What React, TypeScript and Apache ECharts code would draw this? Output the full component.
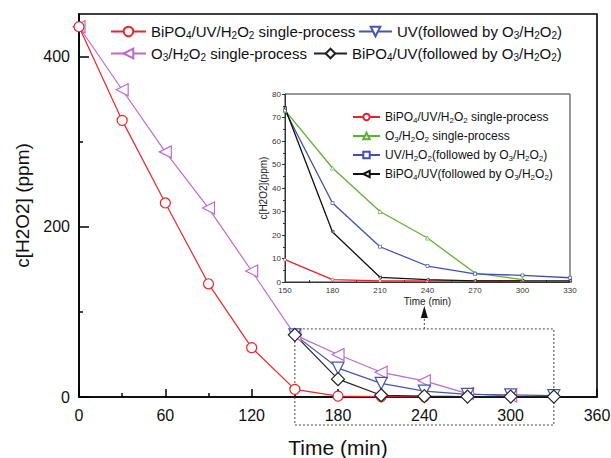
import React, { useEffect, useRef } from "react";
import * as echarts from "echarts";

// ---------- data ----------
const timeMain = [0, 30, 60, 90, 120, 150, 180, 210, 240, 270, 300, 330];
const bipoSingle = [435, 325, 228, 133, 58, 9, 1, 0.5, 0.5, null, null, null];
const o3Single = [435, 361, 288, 222, 148, 73, 50, 29, 19, 4, 1, null];
const uvFollowed = [null, null, null, null, null, 73, 34, 16, 7, 3, 2.5, 1.5];
const bipoUvFollowed = [null, null, null, null, null, 73, 21, 2, 1, 0.5, 0.5, 0.5];

const timeInset = [150, 180, 210, 240, 270, 300, 330];
const insetBipoSingle = [9.5, 1, 0.5, 0.5, 0.5, 0.5, null];
const insetO3Single = [73, 48.5, 30, 18.7, 3.8, 1, null];
const insetUvH2o2 = [73, 33.6, 15, 6.8, 3.5, 2.8, 1.8];
const insetBipoUv = [74, 21.3, 2, 1, 0.5, 0.5, 0.5];

const xMajorTicks = [0, 60, 120, 180, 240, 300, 360];
const xMinorTicks = [30, 90, 150, 210, 270, 330];
const yMajorTicks = [0, 200, 400];
const yMinorTicks = [100, 300];

const legendText: Record<string, string> = {
  m1: "BiPO_4/UV/H_2O_2 single-process",
  m2: "UV(followed by O_3/H_2O_2)",
  m3: "O_3/H_2O_2 single-process",
  m4: "BiPO_4/UV(followed by O_3/H_2O_2)",
  i1: "BiPO_4/UV/H_2O_2 single-process",
  i2: "O_3/H_2O_2 single-process",
  i3: "UV/H_2O_2(followed by O_3/H_2O_2)",
  i4: "BiPO_4/UV(followed by O_3/H_2O_2)",
};

function toRich(s: string): string {
  let out = "";
  let buf = "";
  for (let i = 0; i < s.length; i++) {
    if (s[i] === "_" && i + 1 < s.length) {
      if (buf) out += `{n|${buf}}`;
      buf = "";
      out += `{s|${s[i + 1]}}`;
      i++;
    } else buf += s[i];
  }
  if (buf) out += `{n|${buf}}`;
  return out;
}

const pairs = (xs: number[], ys: (number | null)[]) =>
  xs.map((x, i) => [x, ys[i]]).filter((p) => p[1] !== null);

const FONT = "'Liberation Sans', Arial, sans-serif";

const RED = "#e8262b";
const MAG = "#bd6bca";
const BLUE = "#4656ad";
const BLACK = "#222222";

export default function App() {
  const ref = useRef<HTMLDivElement>(null);
  useEffect(() => {
    if (!ref.current) return;
    const chart = echarts.init(ref.current, null, { renderer: "svg" });

    const mainRich = {
      n: { fontSize: 15, fontFamily: FONT, color: "#111" },
      s: { fontSize: 10, fontFamily: FONT, color: "#111", padding: [7, 0, 0, 0] },
    };
    const insetRich = {
      n: { fontSize: 12, fontFamily: FONT, color: "#111" },
      s: { fontSize: 8, fontFamily: FONT, color: "#111", padding: [6, 0, 0, 0] },
    };
    const mkMainLegend = (name: string, left: number, top: number, w: number) => ({
      data: [name],
      left,
      top,
      padding: 0,
      itemWidth: w,
      itemHeight: 12,
      itemGap: 0,
      selectedMode: false,
      formatter: (n: string) => toRich(legendText[n]),
      textStyle: { rich: mainRich },
    });

    const lineSeries = (
      name: string,
      data: any[],
      color: string,
      symbol: string,
      size: number,
      rotate: number,
      xi: number,
      yi: number,
      lw: number,
      bw: number
    ) => ({
      type: "line",
      name,
      data,
      xAxisIndex: xi,
      yAxisIndex: yi,
      symbol,
      symbolSize: size,
      symbolRotate: rotate,
      lineStyle: { color, width: lw },
      itemStyle: { color: "#ffffff", borderColor: color, borderWidth: bw, opacity: 1 },
      clip: false,
    });

    chart.setOption({
      animation: false,
      backgroundColor: "#fff",
      grid: [
        {
          left: 79,
          top: 14,
          right: 14,
          bottom: 61,
          show: true,
          borderColor: "#000",
          borderWidth: 1.6,
          backgroundColor: "transparent",
          outerBoundsMode: "none",
          containLabel: false,
        },
        {
          left: 285,
          top: 94,
          width: 285,
          height: 188,
          show: true,
          borderColor: "#333",
          borderWidth: 1,
          backgroundColor: "#fff",
          outerBoundsMode: "none",
          containLabel: false,
          z: 3,
        },
      ],
      legend: [
        mkMainLegend("m1", 110, 24, 35),
        mkMainLegend("m2", 358, 24, 33),
        mkMainLegend("m3", 110, 46, 35),
        mkMainLegend("m4", 313, 46, 33),
        {
          data: ["i1", "i2", "i3", "i4"],
          left: 352,
          top: 111,
          padding: 0,
          orient: "vertical",
          itemWidth: 27,
          itemHeight: 8,
          itemGap: 6,
          selectedMode: false,
          formatter: (n: string) => toRich(legendText[n]),
          textStyle: { rich: insetRich },
          z: 10,
        },
      ],
      xAxis: [
        {
          type: "value",
          gridIndex: 0,
          min: 0,
          max: 360,
          name: "Time (min)",
          nameLocation: "middle",
          nameGap: 40,
          nameTextStyle: { fontSize: 21, fontFamily: FONT, color: "#111" },
          axisLine: { show: true, lineStyle: { color: "#000", width: 1.6 } },
          axisTick: { show: true, inside: true, length: 8, customValues: xMajorTicks, lineStyle: { color: "#000", width: 1.5 } },
          axisLabel: { customValues: xMajorTicks, fontSize: 16, fontFamily: FONT, color: "#111", margin: 10 },
          splitLine: { show: false },
        },
        {
          type: "value",
          gridIndex: 0,
          min: 0,
          max: 360,
          axisLine: { show: false },
          axisTick: { show: true, inside: false, length: 4, customValues: xMinorTicks, lineStyle: { color: "#000", width: 1.5 } },
          axisLabel: { show: false },
          splitLine: { show: false },
        },
        {
          type: "value",
          gridIndex: 1,
          min: 150,
          max: 330,
          interval: 30,
          name: "Time (min)",
          nameLocation: "middle",
          nameGap: 14,
          nameTextStyle: { fontSize: 10, fontFamily: FONT, color: "#222" },
          axisLine: { show: true, lineStyle: { color: "#333", width: 1 } },
          axisTick: { show: true, inside: true, length: 3, lineStyle: { color: "#333" } },
          minorTick: { show: true, splitNumber: 2, length: 2, lineStyle: { color: "#333" } },
          axisLabel: { fontSize: 8, fontFamily: FONT, color: "#333", margin: 4 },
          splitLine: { show: false },
          z: 4,
        },
      ],
      yAxis: [
        {
          type: "value",
          gridIndex: 0,
          min: 0,
          max: 450,
          name: "c[H2O2] (ppm)",
          nameLocation: "middle",
          nameGap: 38,
          nameTextStyle: { fontSize: 19, fontFamily: FONT, color: "#111" },
          axisLine: { show: true, lineStyle: { color: "#000", width: 1.6 } },
          axisTick: { show: true, inside: true, length: 10, customValues: yMajorTicks, lineStyle: { color: "#000", width: 1.5 } },
          axisLabel: { customValues: yMajorTicks, fontSize: 16, fontFamily: FONT, color: "#111", margin: 9 },
          splitLine: { show: false },
        },
        {
          type: "value",
          gridIndex: 0,
          min: 0,
          max: 450,
          axisLine: { show: false },
          axisTick: { show: true, inside: false, length: 4, customValues: yMinorTicks, lineStyle: { color: "#000", width: 1.5 } },
          axisLabel: { show: false },
          splitLine: { show: false },
        },
        {
          type: "value",
          gridIndex: 1,
          min: 0,
          max: 80,
          interval: 10,
          name: "c[H2O2](ppm)",
          nameLocation: "middle",
          nameGap: 16,
          nameTextStyle: { fontSize: 10, fontFamily: FONT, color: "#222" },
          axisLine: { show: true, lineStyle: { color: "#333", width: 1 } },
          axisTick: { show: true, inside: false, length: 3, lineStyle: { color: "#333" } },
          minorTick: { show: true, splitNumber: 2, length: 2, lineStyle: { color: "#333" } },
          axisLabel: { fontSize: 8, fontFamily: FONT, color: "#333", margin: 4 },
          splitLine: { show: false },
          z: 4,
        },
      ],
      series: [
        lineSeries("m3", pairs(timeMain, o3Single), MAG, "triangle", 12, 90, 0, 0, 1.2, 1.2),
        lineSeries("m1", pairs(timeMain, bipoSingle), RED, "circle", 10, 0, 0, 0, 1.2, 1.2),
        lineSeries("m2", pairs(timeMain, uvFollowed), BLUE, "triangle", 12, 180, 0, 0, 1.2, 1.2),
        lineSeries("m4", pairs(timeMain, bipoUvFollowed), BLACK, "diamond", 13, 0, 0, 0, 1.2, 1.2),
        { ...lineSeries("i1", pairs(timeInset, insetBipoSingle), "#e4232b", "circle", 3, 0, 2, 2, 1.3, 0.7), z: 5 },
        { ...lineSeries("i2", pairs(timeInset, insetO3Single), "#5fb132", "triangle", 4, 0, 2, 2, 1.3, 0.7), z: 5 },
        { ...lineSeries("i3", pairs(timeInset, insetUvH2o2), "#3f50b0", "rect", 3, 0, 2, 2, 1.3, 0.7), z: 5 },
        { ...lineSeries("i4", pairs(timeInset, insetBipoUv), "#111111", "triangle", 3, 90, 2, 2, 1.3, 0.7), z: 5 },
      ],
    });

    // dashed zoom box + arrow, positioned from data coordinates of the main grid
    const [xl, yTop] = chart.convertToPixel({ gridIndex: 0 }, [150, 80]) as number[];
    const [xr, y0] = chart.convertToPixel({ gridIndex: 0 }, [330, 0]) as number[];
    const cx = (xl + xr) / 2;
    chart.setOption({
      graphic: [
        {
          type: "rect",
          shape: { x: xl, y: yTop, width: xr - xl, height: y0 + 28 - yTop },
          style: { fill: "none", stroke: "#444", lineWidth: 1, lineDash: [2, 2] },
          z: 1,
        },
        {
          type: "line",
          shape: { x1: cx, y1: yTop, x2: cx, y2: yTop - 12 },
          style: { stroke: "#444", lineWidth: 1, lineDash: [2, 2] },
        },
        {
          type: "polygon",
          shape: { points: [[cx, yTop - 23], [cx - 3.5, yTop - 11], [cx + 3.5, yTop - 11]] },
          style: { fill: "#111" },
        },
      ],
    });

    return () => chart.dispose();
  }, []);
  return <div ref={ref} style={{ width: 611, height: 458, position: "absolute", left: 0, top: 0 }} />;
}
